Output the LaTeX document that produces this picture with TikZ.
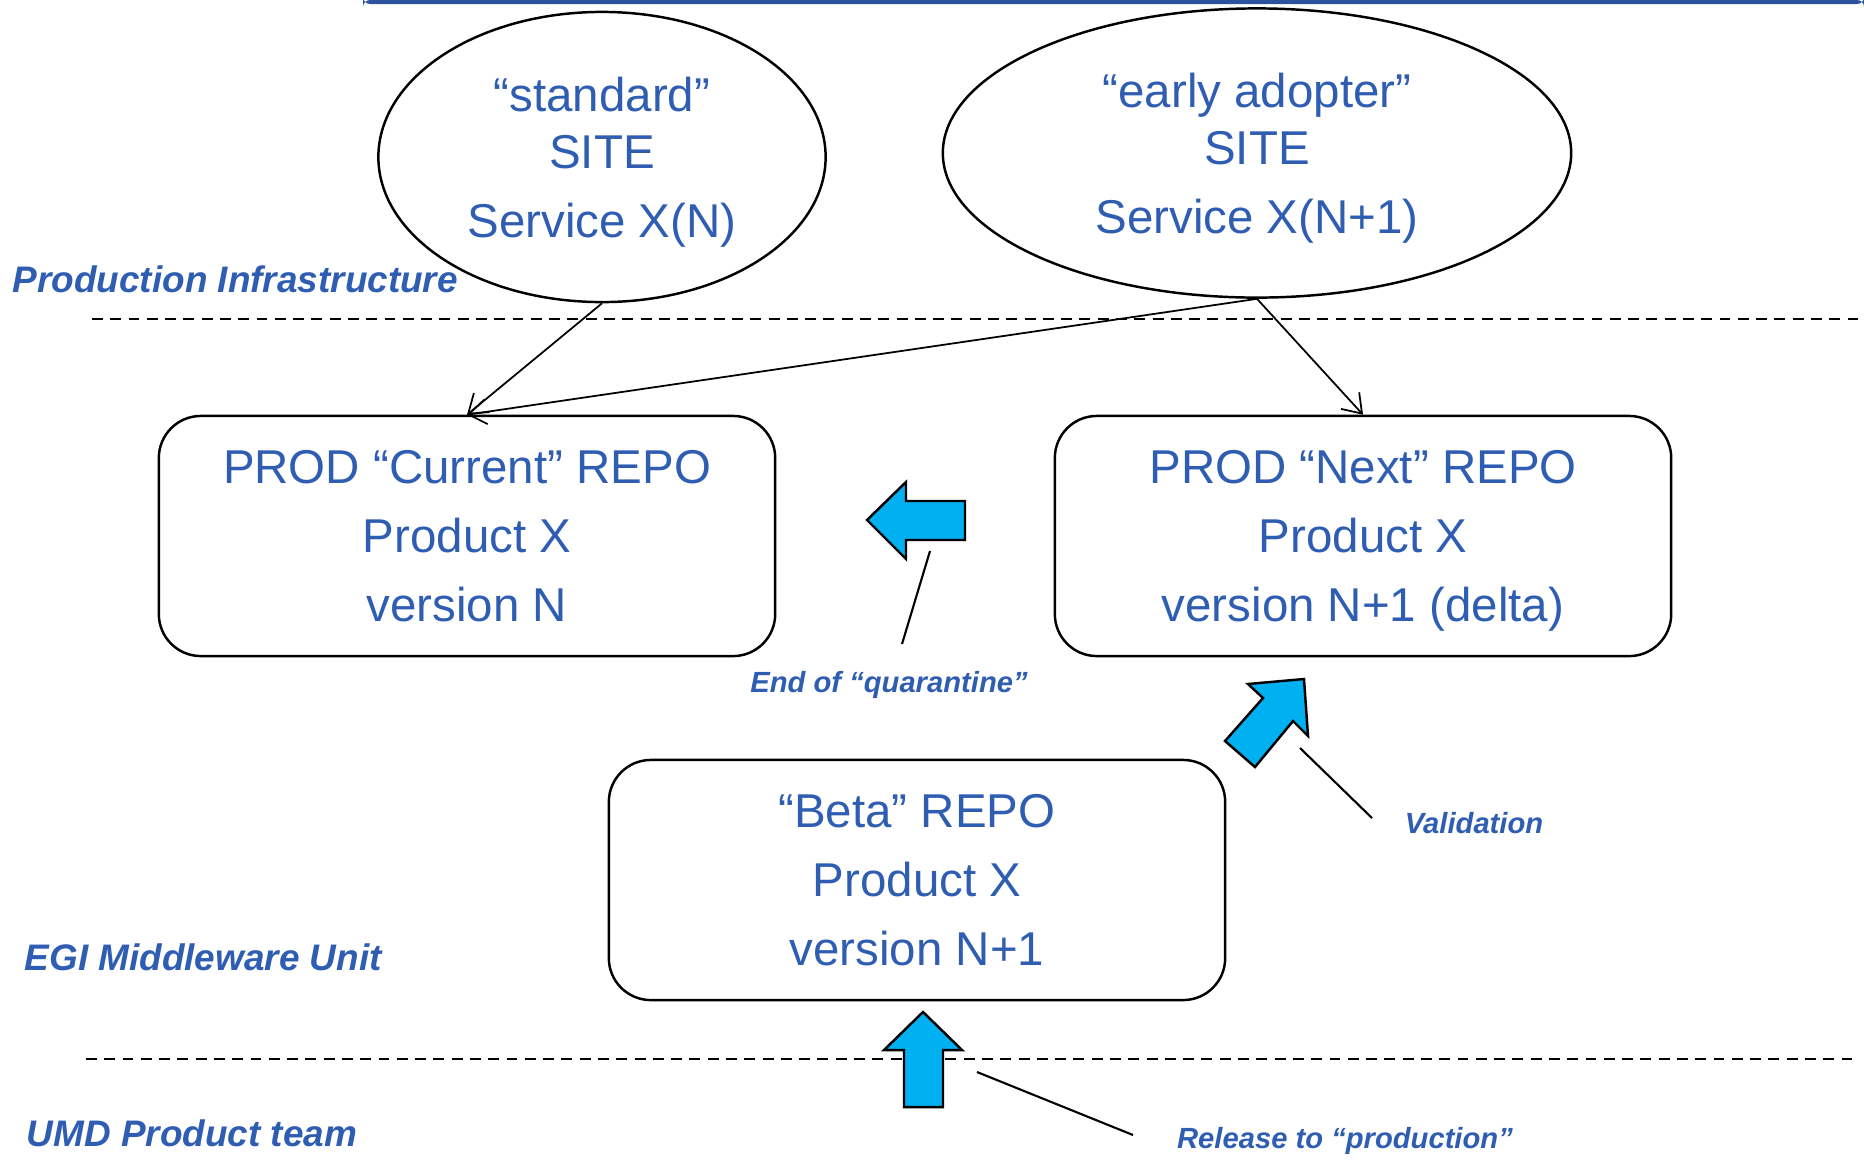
\documentclass[tikz,border=0pt]{standalone}
\usepackage{fontspec}
\setmainfont{Liberation Sans}
\usetikzlibrary{shapes.geometric,arrows.meta}
\definecolor{txtblue}{RGB}{47,93,178}
\definecolor{barblue}{RGB}{44,82,160}
\definecolor{fillcyan}{RGB}{0,176,240}
\newcommand{\nodepth}[1]{\raisebox{0pt}[\height][0pt]{#1}}
\tikzset{
site/.style={ellipse, draw, line width=0.7pt, inner sep=0pt, text=txtblue, align=center, font=\fontsize{13.5}{16.2}\selectfont},
repo/.style={rectangle, rounded corners=0.42cm, draw, line width=0.7pt, minimum width=6.16cm, minimum height=2.40cm, inner sep=0pt, text=txtblue, align=center, font=\fontsize{13.5}{19.7}\selectfont},
layer/.style={anchor=west, inner sep=0pt, text=txtblue, font=\fontsize{10.5}{12}\selectfont\bfseries\itshape},
note/.style={inner sep=0pt, text=txtblue, font=\fontsize{8.3}{10}\selectfont\bfseries\itshape},
link/.style={line width=0.5pt, -{Straight Barb[length=5pt,width=7pt]}},
fat/.style={fill=fillcyan, draw, line width=0.7pt, line join=miter},
sep/.style={line width=0.75pt, dash pattern=on 3.1pt off 2.1pt}
}
\begin{document}
\begin{tikzpicture}[x=0.01cm, y=-0.01cm]
\useasboundingbox (0,0) rectangle (1864,1160);
\fill[barblue, rounded corners=2pt] (363,0) rectangle (1864,4);
\node[site, minimum width=4.47cm, minimum height=2.90cm] (site0) at (602,157){“standard”\\SITE\\[3.4pt]\nodepth{Service X(N)}};
\node[site, minimum width=6.28cm, minimum height=2.89cm] (site1) at (1257,153){“early adopter”\\SITE\\[3.4pt]\nodepth{Service X(N+1)}};
\node[repo] (repo0) at (467,536){PROD “Current” REPO\\Product X\\version N};
\node[repo] (repo1) at (1363,536){PROD “Next” REPO\\Product X\\\nodepth{version N+1 (delta)}};
\node[repo] (repo2) at (917,880){“Beta” REPO\\Product X\\version N+1};
\draw[link] (site0.south) -- (repo0.north);
\draw[link] (site1.south) -- (repo0.north);
\draw[link] (site1.south) -- (repo1.north);
\draw[sep] (92,319) -- (1864,319);
\draw[sep] (86,1059) -- (1853,1059);
\node[layer] (lay0) at (12,279){Production Infrastructure};
\node[layer] (lay1) at (24,957){EGI Middleware Unit};
\node[layer] (lay2) at (26,1133){UMD Product team};
\draw[fat] (965,501) -- (906,501) -- (906,482) -- (867,520) -- (906,559) -- (906,540) -- (965,540) -- cycle;
\draw[fat] (1304,679) -- (1308,736) -- (1293,721) -- (1255,767) -- (1225,741) -- (1263,698) -- (1248,684) -- cycle;
\draw[fat] (923,1012) -- (962,1050) -- (943,1050) -- (943,1107) -- (904,1107) -- (904,1050) -- (884,1050) -- cycle;
\node[note] (quar) at (889,685){End of “quarantine”};
\node[note] (valid) at (1474,823){Validation};
\node[note] (rel) at (1345,1141){Release to “production”};
\coordinate (q0) at (930,551);
\coordinate (q1) at (902,644);
\coordinate (v0) at (1300,748);
\coordinate (v1) at (1372,818);
\coordinate (r0) at (977,1072);
\coordinate (r1) at (1133,1135);
\draw[line width=0.6pt] (q0) -- (q1);
\draw[line width=0.6pt] (v0) -- (v1);
\draw[line width=0.6pt] (r0) -- (r1);
\end{tikzpicture}
\end{document}
